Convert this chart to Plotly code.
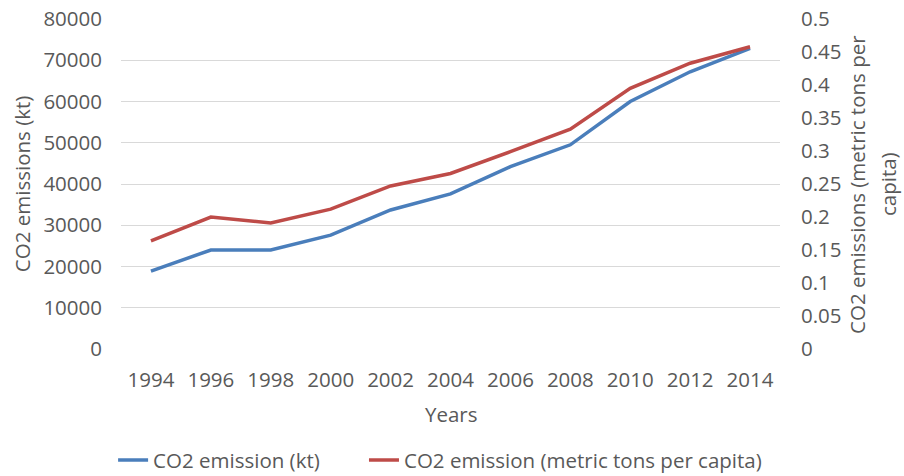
import plotly.graph_objects as go

# CO2 emissions by year
years = ["1994", "1996", "1998", "2000", "2002", "2004", "2006", "2008", "2010", "2012", "2014"]
emission_kt = [18900, 24000, 24000, 27600, 33700, 37600, 44200, 49500, 60000, 67200, 72900]
emission_per_capita = [0.164, 0.200, 0.191, 0.212, 0.247, 0.266, 0.299, 0.333, 0.395, 0.433, 0.458]

kt_ticks = list(range(0, 80001, 10000))
pc_ticks = [0, 0.05, 0.1, 0.15, 0.2, 0.25, 0.3, 0.35, 0.4, 0.45, 0.5]
pc_labels = ["0", "0.05", "0.1", "0.15", "0.2", "0.25", "0.3", "0.35", "0.4", "0.45", "0.5"]

TEXT = "#595959"
FONT = "Open Sans, Segoe UI, sans-serif"
FS = 20.5

fig = go.Figure()
fig.add_trace(go.Scatter(
    x=years, y=emission_kt, name="CO2 emission (kt)", mode="lines",
    line=dict(color="#4A7EBB", width=3.5), yaxis="y", legend="legend",
))
fig.add_trace(go.Scatter(
    x=years, y=emission_per_capita, name="CO2 emission (metric tons per capita)", mode="lines",
    line=dict(color="#BE4B48", width=3.5), yaxis="y2", legend="legend2",
))

title_font = dict(family=FONT, size=FS, color=TEXT)
legend_style = dict(orientation="h", xanchor="left", y=-0.337, yanchor="middle",
                    font=dict(size=FS, color=TEXT), itemwidth=30,
                    bgcolor="rgba(0,0,0,0)")

fig.update_layout(
    width=904, height=476,
    margin=dict(l=121, r=124, t=19, b=127, autoexpand=False),
    paper_bgcolor="white", plot_bgcolor="white",
    font=dict(family=FONT, size=FS, color=TEXT),
    showlegend=True,
    legend=dict(x=-0.012, **legend_style),
    legend2=dict(x=0.3687, **legend_style),
    xaxis=dict(
        type="category", range=[-0.5, 10.5], showgrid=False, showline=False,
        zeroline=False, ticks="", ticklabelstandoff=16, automargin=False,
        tickfont=dict(size=FS, color=TEXT),
    ),
    yaxis=dict(
        range=[0, 80000], tickvals=kt_ticks, ticktext=[str(v) for v in kt_ticks],
        showgrid=True, gridcolor="#D9D9D9", gridwidth=1, zeroline=False,
        showline=False, ticks="", ticklabelstandoff=18, automargin=False,
        tickfont=dict(size=FS, color=TEXT),
    ),
    yaxis2=dict(
        range=[0, 0.5], tickvals=pc_ticks, ticktext=pc_labels, overlaying="y",
        side="right", showgrid=False, zeroline=False, showline=False, ticks="",
        ticklabelstandoff=20, automargin=False,
        tickfont=dict(size=FS, color=TEXT),
    ),
    annotations=[
        dict(text="Years", xref="paper", yref="paper", x=0.502, y=-0.197,
             xanchor="center", yanchor="middle", showarrow=False, font=title_font),
        dict(text="CO2 emissions (kt)", xref="paper", yref="paper", x=-0.150, y=0.5,
             xanchor="center", yanchor="middle", textangle=-90, showarrow=False,
             font=title_font),
        dict(text="CO2 emissions (metric tons per", xref="paper", yref="paper",
             x=1.1168, y=0.5, xanchor="center", yanchor="middle", textangle=-90,
             showarrow=False, font=title_font),
        dict(text="capita)", xref="paper", yref="paper", x=1.1639, y=0.5,
             xanchor="center", yanchor="middle", textangle=-90, showarrow=False,
             font=title_font),
    ],
)

fig.write_html("out.html")
